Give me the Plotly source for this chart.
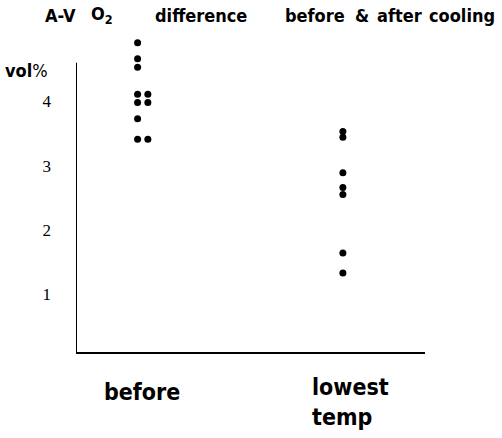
import plotly.graph_objects as go

# A-V O2 difference (vol%)
before_vals = [4.91, 4.66, 4.53, 4.11, 4.11, 3.98, 3.98, 3.73, 3.41, 3.41]
lowest_vals = [3.53, 3.44, 2.89, 2.66, 2.55, 1.64, 1.33]
y_ticks = [1, 2, 3, 4]

# small sideways shift for dots that sit next to each other
before_shift = [0, 0, 0, 0, 0.05, 0, 0.05, 0, 0, 0.05]
lowest_shift = [0] * len(lowest_vals)

# words of the title and where each one starts (pixels)
title_words = ["A-V", "O<sub>2</sub>", "difference", "before", "&", "after", "cooling"]
title_left = [43, 89, 153, 283, 353, 375, 427]

cond = "DejaVu Sans Condensed"
serif = "Liberation Serif"
L, R, T, B = 76, 77, 37, 86
W, H = 502, 438

fig = go.Figure()
fig.add_trace(go.Scatter(
    x=[1 + s for s in before_shift], y=before_vals,
    mode="markers", marker=dict(color="black", size=7),
    cliponaxis=False, showlegend=False))
fig.add_trace(go.Scatter(
    x=[2 + s for s in lowest_shift], y=lowest_vals,
    mode="markers", marker=dict(color="black", size=7),
    cliponaxis=False, showlegend=False))

fig.update_layout(
    width=W, height=H,
    margin=dict(l=L, r=R, t=T, b=B),
    paper_bgcolor="white", plot_bgcolor="white",
    xaxis=dict(range=[0.70, 2.40], showgrid=False, zeroline=False,
               showline=True, linecolor="black", linewidth=2,
               showticklabels=False, ticks=""),
    yaxis=dict(range=[0.1, 5.0], showgrid=False, zeroline=False,
               showline=False,
               tickvals=y_ticks, ticks="", ticklabelstandoff=24,
               tickfont=dict(family=serif, size=17, color="black")),
)

# axe vertical, s'arrête sous les points du haut
fig.add_shape(type="line", xref="x", yref="y", x0=0.70, x1=0.70, y0=0.1, y1=4.6,
              line=dict(color="black", width=2))

# titre, mot par mot
pw = W - L - R
for word, px in zip(title_words, title_left):
    fig.add_annotation(
        x=(px - L) / pw, y=1.0, xref="paper", yref="paper",
        xanchor="left", yanchor="middle", yshift=22, showarrow=False,
        text="<b>" + word + "</b>",
        font=dict(family=cond, size=18, color="black"))

fig.add_annotation(
    x=(3 - L) / pw, y=1.0, xref="paper", yref="paper", xanchor="left", yanchor="middle",
    yshift=-33, showarrow=False, text="<b>vol</b>%",
    font=dict(family=cond, size=18, color="black"))
fig.add_annotation(
    x=1.02, y=0, xref="x", yref="paper", yanchor="top", yshift=-25,
    showarrow=False, text="<b>before</b>",
    font=dict(family=cond, size=23, color="black"))
fig.add_annotation(
    x=1.84, y=0, xref="x", yref="paper", xanchor="left", yanchor="top", yshift=-20,
    showarrow=False, align="left", text="<b>lowest<br>temp</b>",
    font=dict(family=cond, size=23, color="black"))

fig.write_html("out.html", config={"displayModeBar": False},
               post_script="document.body.style.margin='0';")
